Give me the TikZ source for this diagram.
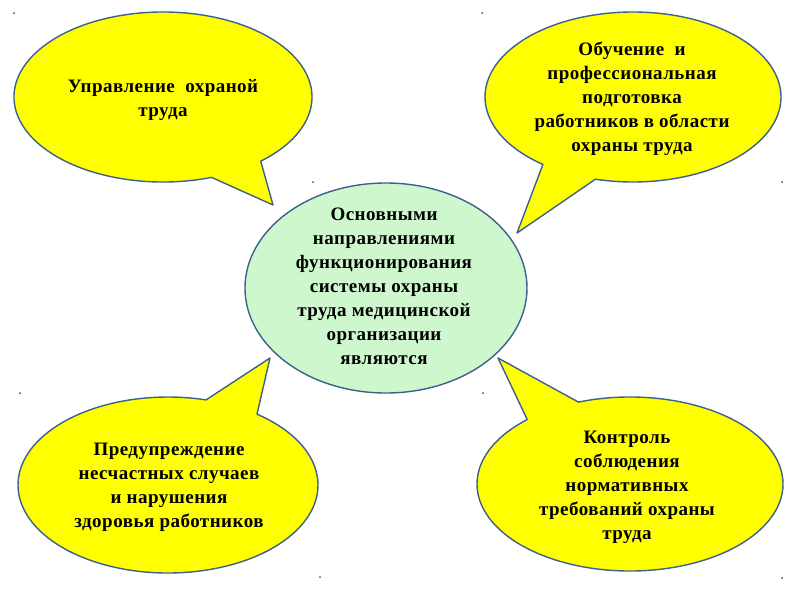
\documentclass[tikz,border=0pt]{standalone}
\usepackage{fontspec}
\setmainfont{Liberation Serif}
\newfontfamily\bubfont[LetterSpace=2.5]{Liberation Serif}
\definecolor{bord}{RGB}{62,96,140}
\definecolor{yel}{RGB}{255,255,0}
\definecolor{lgreen}{RGB}{206,247,206}
\begin{document}
\begin{tikzpicture}[x=1pt,y=-1pt,
  bubble/.style={fill=yel,draw=bord,line width=1.4pt,line join=round},
  txt/.style={align=center,font=\bubfont\bfseries\fontsize{19}{24}\selectfont,text=black},
  dot/.style={fill=black!70,draw=none}]
\useasboundingbox (0,0) rectangle (800,600);
% top-left bubble
\draw[bubble] (163,97) ++(71:149 and 85) arc[start angle=71,end angle=409,x radius=149,y radius=85] -- (273,205) -- cycle;
% top-right bubble
\draw[bubble] (633,97) ++(127.5:148 and 85) arc[start angle=127.5,end angle=464.7,x radius=148,y radius=85] -- (517,233) -- cycle;
% bottom-left bubble
\draw[bubble] (168,485) ++(-53.6:150 and 88) arc[start angle=-53.6,end angle=284.7,x radius=150,y radius=88] -- (270,358) -- cycle;
% bottom-right bubble
\draw[bubble] (630,484) ++(250.3:153 and 87) arc[start angle=250.3,end angle=587.8,x radius=153,y radius=87] -- (498,358) -- cycle;
% center ellipse
\draw[fill=lgreen,draw=bord,line width=1.4pt] (386,288) ellipse[x radius=141,y radius=105];
% texts
\node[txt] (tl) at (163,100) {Управление~~охраной\\труда};
\node[txt] (tr) at (632,99) {Обучение~~и\\профессиональная\\подготовка\\работников в области\\охраны труда};
\node[txt] (c) at (384,286) {Основными\\направлениями\\функционирования\\системы охраны\\труда медицинской\\организации\\являются};
\node[txt] (bl) at (169,487) {Предупреждение\\несчастных случаев\\и нарушения\\здоровья работников};
\node[txt] (br) at (627,487) {Контроль\\соблюдения\\нормативных\\требований охраны\\труда};
% stray dots
\foreach \p in {(14,13),(482,13),(313,182),(782,182),(20,393),(483,393),(320,577),(782,578)}
  \fill[dot] \p circle[radius=1];
\end{tikzpicture}
\end{document}
